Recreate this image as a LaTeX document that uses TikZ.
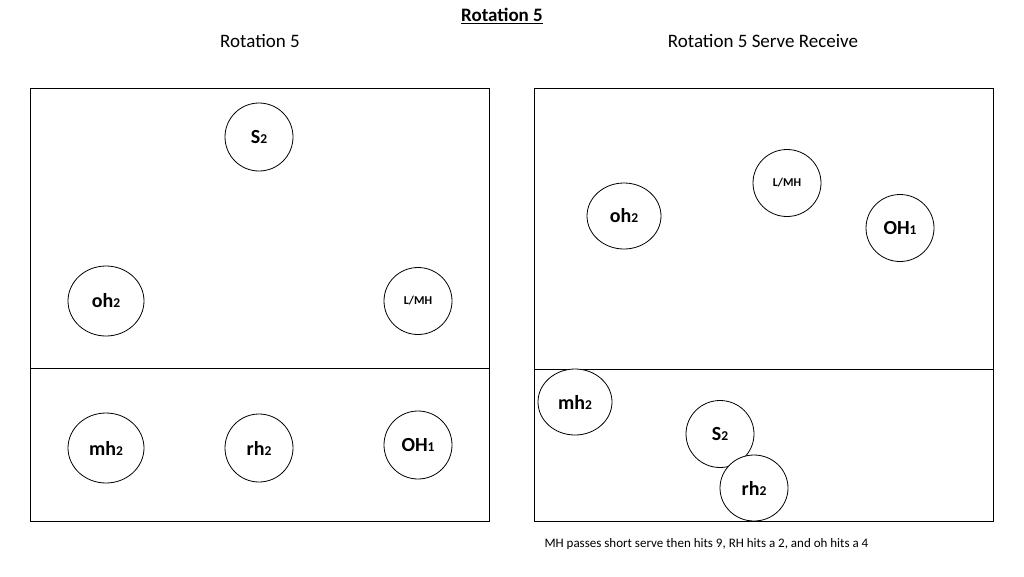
\documentclass[tikz,border=0pt]{standalone}
\usepackage{fontspec}
\setmainfont{Carlito}
\usepackage{tikz}
\usetikzlibrary{positioning,shapes.geometric}
\tikzset{%
	court/.style    = {draw, line width=1pt},
	player/.style   = {draw, ellipse, fill=white, line width=0.8pt, inner sep=0pt, font=\fontsize{20}{22}\selectfont\bfseries},
	small/.style    = {font=\fontsize{12}{14}\selectfont\bfseries},
	heading/.style  = {font=\fontsize{19}{21}\selectfont},
	note/.style     = {font=\fontsize{13}{15}\selectfont, anchor=west},
}
\newcommand{\sub}[1]{{\fontsize{13.5}{15}\selectfont #1}}

\begin{document}
\begin{tikzpicture}[x=1pt,y=-1pt]
	\useasboundingbox (0,0) rectangle (1024,576);
	% titles
	\node [heading,font=\fontsize{19}{21}\selectfont\bfseries] (title) at (502,16) {\underline{Rotation 5}};
	\node [heading] (lefthead) at (260,41) {Rotation 5};
	\node [heading] (righthead) at (763,41) {Rotation 5 Serve Receive};
	
	% courts
	\draw[court] (30,88) rectangle (489,521);
	\draw[court] (30,368) -- (489,368);
	\draw[court] (534,88) rectangle (993,521);
	\draw[court] (534,369) -- (993,369);
	
	% rotation 5
	\node [player,minimum width=68pt,minimum height=68pt] (s) at (259,137) {S\sub{2}};
	\node [player,minimum width=76pt,minimum height=70pt] (oh) at (106,301) {oh\sub{2}};
	\node [player,small,minimum width=68pt,minimum height=67pt] (lmh) at (418,301) {L/MH};
	\node [player,minimum width=76pt,minimum height=70pt] (mh) at (106,448) {mh\sub{2}};
	\node [player,minimum width=68pt,minimum height=68pt] (rh) at (259,448) {rh\sub{2}};
	\node [player,minimum width=68pt,minimum height=68pt] (OH) at (418,445) {OH\sub{1}};
	
	% serve receive
	\node [player,minimum width=74pt,minimum height=66pt] (oh') at (624,216) {oh\sub{2}};
	\node [player,small,minimum width=68pt,minimum height=67pt] (lmh') at (787,183) {L/MH};
	\node [player,minimum width=68pt,minimum height=67pt] (OH') at (900,228) {OH\sub{1}};
	\node [player,minimum width=74pt,minimum height=66pt] (mh') at (575,402) {mh\sub{2}};
	\node [player,minimum width=68pt,minimum height=67pt] (s') at (720,434) {S\sub{2}};
	\node [player,minimum width=68pt,minimum height=66pt] (rh') at (754,488) {rh\sub{2}};
	
	\node [note] (plan) at (541,544) {MH passes short serve then hits 9, RH hits a 2, and oh hits a 4};
\end{tikzpicture}
\end{document}
